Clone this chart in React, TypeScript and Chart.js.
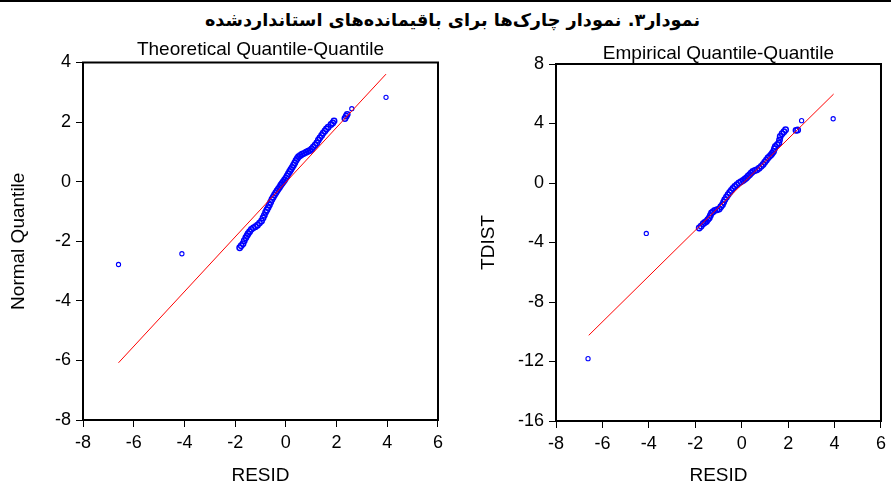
import React, { useEffect, useRef } from 'react';
import { Chart, registerables } from 'chart.js';

Chart.register(...registerables);

const PAGE_TITLE = 'نمودار۳. نمودار چارک‌ها برای باقیمانده‌های استانداردشده';
const LEFT_TITLE = 'Theoretical Quantile-Quantile';
const RIGHT_TITLE = 'Empirical Quantile-Quantile';
const X_LABEL = 'RESID';
const LEFT_Y_LABEL = 'Normal Quantile';
const RIGHT_Y_LABEL = 'TDIST';

// Theoretical Q-Q: standardized residuals vs normal quantiles
const theoResid = [-6.6, -4.1, -1.82, -1.76, -1.69, -1.64, -1.58, -1.53, -1.49, -1.43, -1.36, -1.28, -1.2, -1.12, -1.04, -0.96, -0.9, -0.85, -0.8, -0.75, -0.7, -0.65, -0.6, -0.55, -0.5, -0.45, -0.4, -0.35, -0.3, -0.25, -0.2, -0.15, -0.1, -0.05, 0.0, 0.05, 0.1, 0.15, 0.2, 0.25, 0.3, 0.35, 0.4, 0.45, 0.5, 0.57, 0.64, 0.72, 0.8, 0.88, 0.95, 1.02, 1.08, 1.15, 1.22, 1.28, 1.34, 1.41, 1.47, 1.54, 1.6, 1.67, 1.78, 1.85, 1.9, 2.33, 2.38, 2.42, 2.6, 3.95];
const theoNormal = [-2.78, -2.42, -2.22, -2.15, -2.08, -1.98, -1.88, -1.81, -1.75, -1.68, -1.6, -1.55, -1.51, -1.46, -1.39, -1.32, -1.22, -1.13, -1.03, -0.95, -0.87, -0.78, -0.69, -0.6, -0.52, -0.45, -0.38, -0.31, -0.25, -0.19, -0.12, -0.06, 0.0, 0.06, 0.12, 0.19, 0.27, 0.34, 0.41, 0.48, 0.55, 0.63, 0.71, 0.78, 0.84, 0.88, 0.92, 0.95, 0.99, 1.02, 1.05, 1.1, 1.16, 1.22, 1.3, 1.39, 1.47, 1.55, 1.63, 1.7, 1.77, 1.83, 1.92, 1.97, 2.04, 2.12, 2.2, 2.26, 2.45, 2.83];
const theoLineX = [-6.6, 3.95];
const theoLineY = [-6.08, 3.61];

// Empirical Q-Q: standardized residuals vs t-distribution quantiles
const empResid = [-6.62, -4.11, -1.83, -1.75, -1.66, -1.59, -1.52, -1.46, -1.4, -1.35, -1.3, -1.23, -1.16, -1.06, -0.97, -0.9, -0.83, -0.78, -0.73, -0.66, -0.59, -0.52, -0.45, -0.38, -0.3, -0.21, -0.12, -0.03, 0.06, 0.13, 0.2, 0.27, 0.34, 0.41, 0.48, 0.57, 0.66, 0.75, 0.84, 0.92, 0.99, 1.06, 1.13, 1.2, 1.27, 1.32, 1.37, 1.41, 1.45, 1.53, 1.6, 1.63, 1.66, 1.74, 1.82, 1.89, 2.34, 2.41, 2.58, 3.94];
const empTdist = [-11.81, -3.39, -3.03, -2.9, -2.74, -2.66, -2.58, -2.46, -2.35, -2.18, -2.02, -1.93, -1.84, -1.8, -1.75, -1.6, -1.46, -1.29, -1.12, -0.95, -0.79, -0.64, -0.5, -0.36, -0.23, -0.11, 0.0, 0.08, 0.17, 0.25, 0.34, 0.45, 0.56, 0.67, 0.78, 0.84, 0.89, 1.0, 1.12, 1.25, 1.39, 1.53, 1.68, 1.79, 1.9, 2.01, 2.12, 2.3, 2.46, 2.58, 2.69, 2.9, 3.13, 3.31, 3.45, 3.58, 3.54, 3.56, 4.19, 4.32];
const empLineX = [-6.59, 3.96];
const empLineY = [-10.24, 5.98];

const X_MIN = -8;
const X_MAX = 6;
const X_STEP = 2;
const LEFT_Y = { min: -8, max: 4, step: 2 };
const RIGHT_Y = { min: -16, max: 8, step: 4 };

const FONT = '"Liberation Sans", Arial, Helvetica, sans-serif';

const framePlugin = {
  id: 'frame',
  afterDatasetsDraw(chart: any) {
    const { ctx, chartArea: a } = chart;
    ctx.save();
    ctx.strokeStyle = '#000';
    ctx.lineWidth = 2;
    ctx.strokeRect(a.left, a.top, a.right - a.left, a.bottom - a.top);
    ctx.restore();
  },
};

type QQProps = {
  left: number;
  width: number;
  height: number;
  xs: number[];
  ys: number[];
  lx: number[];
  ly: number[];
  yRange: { min: number; max: number; step: number };
  title: string;
  yLabel: string;
  padTop: number;
  titleGap: number;
  padRight: number;
  yAxisW: number;
  xAxisH: number;
  yTitlePad: number;
};

function QQChart(p: QQProps) {
  const ref = useRef<HTMLCanvasElement | null>(null);
  useEffect(() => {
    if (!ref.current) return;
    const points = p.xs.map((x, i) => ({ x, y: p.ys[i] }));
    const line = p.lx.map((x, i) => ({ x, y: p.ly[i] }));
    // points packed closely together (the dense body) get a slightly heavier marker
    const dense = p.xs.map((x, i) => {
      const prev = i > 0 ? Math.abs(x - p.xs[i - 1]) : Infinity;
      const next = i < p.xs.length - 1 ? Math.abs(p.xs[i + 1] - x) : Infinity;
      return Math.min(prev, next) < 0.15;
    });
    const tickFont = { family: FONT, size: 18 };
    const chart = new Chart(ref.current, {
      type: 'scatter',
      data: {
        datasets: [
          {
            data: line,
            showLine: true,
            borderColor: '#ff0000',
            borderWidth: 1,
            pointRadius: 0,
            fill: false,
          },
          {
            data: points,
            showLine: false,
            pointStyle: 'circle',
            pointRadius: (c: any) => (dense[c.dataIndex] ? 2.7 : 2.1),
            borderColor: '#0000ff',
            backgroundColor: 'rgba(0,0,0,0)',
            borderWidth: (c: any) => (dense[c.dataIndex] ? 1.5 : 1.1),
          },
        ],
      },
      options: {
        responsive: false,
        animation: false,
        devicePixelRatio: 1,
        layout: { padding: { left: 0, right: p.padRight, top: p.padTop, bottom: 0 } },
        plugins: {
          legend: { display: false },
          tooltip: { enabled: false },
          title: {
            display: true,
            text: p.title,
            fullSize: false,
            color: '#000',
            font: { family: FONT, size: 19, weight: 'normal', lineHeight: 1 },
            padding: { top: 0, bottom: p.titleGap },
          },
        },
        scales: {
          x: {
            type: 'linear',
            min: X_MIN,
            max: X_MAX,
            afterFit: (s: any) => {
              s.height = p.xAxisH;
            },
            ticks: {
              stepSize: X_STEP,
              color: '#000',
              font: tickFont,
              padding: 5,
              maxRotation: 0,
              autoSkip: false,
              callback: (v: any) => String(v),
            },
            grid: { drawOnChartArea: false, drawTicks: true, tickLength: 7, color: '#000', lineWidth: 1 },
            border: { display: false },
            title: {
              display: true,
              text: X_LABEL,
              color: '#000',
              font: { family: FONT, size: 19, lineHeight: 1 },
              padding: { top: 0, bottom: 0.5 },
            },
          },
          y: {
            type: 'linear',
            min: p.yRange.min,
            max: p.yRange.max,
            afterFit: (s: any) => {
              s.width = p.yAxisW;
            },
            ticks: {
              stepSize: p.yRange.step,
              color: '#000',
              font: tickFont,
              padding: 5,
              autoSkip: false,
              callback: (v: any) => String(v),
            },
            grid: { drawOnChartArea: false, drawTicks: true, tickLength: 7, color: '#000', lineWidth: 1 },
            border: { display: false },
            title: {
              display: true,
              text: p.yLabel,
              color: '#000',
              font: { family: FONT, size: 19, lineHeight: 1 },
              padding: { top: p.yTitlePad, bottom: 0 },
            },
          },
        },
      } as any,
      plugins: [framePlugin],
    });
    return () => chart.destroy();
  }, []);
  return (
    <canvas
      ref={ref}
      width={p.width}
      height={p.height}
      style={{ position: 'absolute', left: p.left, top: 0, width: p.width, height: p.height }}
    />
  );
}

export default function App() {
  return (
    <div
      style={{
        position: 'absolute',
        left: 0,
        top: 0,
        width: 891,
        height: 486,
        background: '#fff',
        overflow: 'hidden',
      }}
    >
      <div style={{ position: 'absolute', left: 0, top: 0, width: 891, height: 2, background: '#000' }} />
      <div
        dir="rtl"
        style={{
          position: 'absolute',
          left: 0,
          top: 10,
          width: 905,
          textAlign: 'center',
          fontFamily: '"DejaVu Sans", sans-serif',
          fontWeight: 'bold',
          fontSize: 17.7,
          lineHeight: '21px',
          color: '#000',
          whiteSpace: 'nowrap',
        }}
      >
        {PAGE_TITLE}
      </div>
      <QQChart
        left={0}
        width={448}
        height={486}
        xs={theoResid}
        ys={theoNormal}
        lx={theoLineX}
        ly={theoLineY}
        yRange={LEFT_Y}
        title={LEFT_TITLE}
        yLabel={LEFT_Y_LABEL}
        padTop={40.6}
        titleGap={2.9}
        padRight={10}
        yAxisW={83}
        xAxisH={66}
        yTitlePad={9.5}
      />
      <QQChart
        left={448}
        width={443}
        height={486}
        xs={empResid}
        ys={empTdist}
        lx={empLineX}
        ly={empLineY}
        yRange={RIGHT_Y}
        title={RIGHT_TITLE}
        yLabel={RIGHT_Y_LABEL}
        padTop={44.6}
        titleGap={0.4}
        padRight={8}
        yAxisW={108}
        xAxisH={65}
        yTitlePad={31.5}
      />
    </div>
  );
}
